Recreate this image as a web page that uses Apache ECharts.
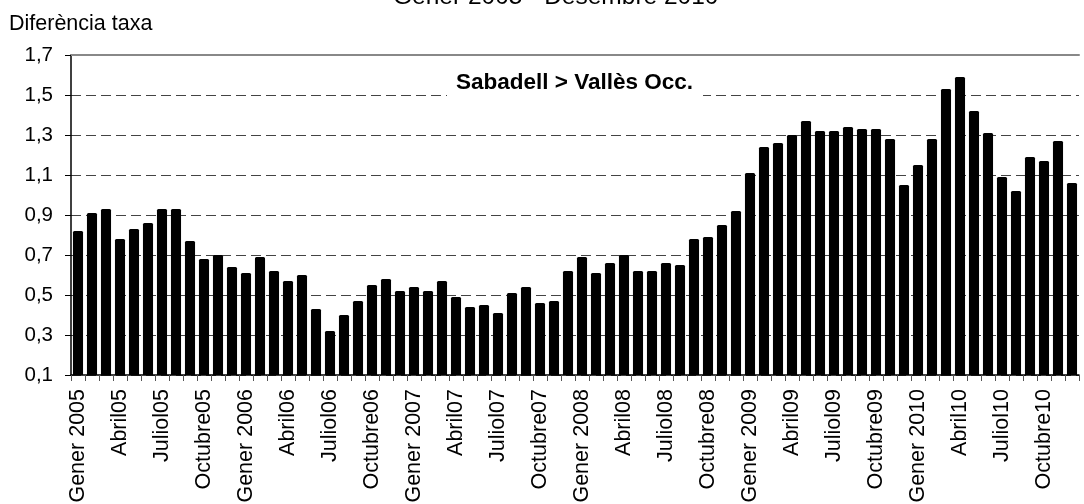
<!DOCTYPE html>
<html>
<head>
<meta charset="utf-8">
<script src="https://cdn.jsdelivr.net/npm/echarts@6/dist/echarts.min.js"></script>
<style>
  html, body { margin: 0; padding: 0; background: #fff; }
  #chart { width: 1084px; height: 504px; }
</style>
</head>
<body>
<div id="chart"></div>
<script>
// ---- data ----
const monthNames = ['Gener', 'Febrer', 'Març', 'Abril', 'Maig', 'Juny', 'Juliol', 'Agost', 'Setembre', 'Octubre', 'Novembre', 'Desembre'];
const years = ['2005', '2006', '2007', '2008', '2009', '2010'];
const values2005 = [0.82, 0.91, 0.93, 0.78, 0.83, 0.86, 0.93, 0.93, 0.77, 0.68, 0.70, 0.64];
const values2006 = [0.61, 0.69, 0.62, 0.57, 0.60, 0.43, 0.32, 0.40, 0.47, 0.55, 0.58, 0.52];
const values2007 = [0.54, 0.52, 0.57, 0.49, 0.44, 0.45, 0.41, 0.51, 0.54, 0.46, 0.47, 0.62];
const values2008 = [0.69, 0.61, 0.66, 0.70, 0.62, 0.62, 0.66, 0.65, 0.78, 0.79, 0.85, 0.92];
const values2009 = [1.11, 1.24, 1.26, 1.30, 1.37, 1.32, 1.32, 1.34, 1.33, 1.33, 1.28, 1.05];
const values2010 = [1.15, 1.28, 1.53, 1.59, 1.42, 1.31, 1.09, 1.02, 1.19, 1.17, 1.27, 1.06];
const yTicks = { min: 0.1, max: 1.7, step: 0.2 };
const titleText = 'Gener 2005 - Desembre 2010';
const yAxisTitle = 'Diferència taxa';
const noteText = 'Sabadell > Vallès Occ.';

// category labels: January with full year, other months with 2-digit year
const categories = [];
years.forEach(function (y) {
  monthNames.forEach(function (m, i) {
    categories.push(i === 0 ? m + ' ' + y : m + y.slice(2));
  });
});
const values = [].concat(values2005, values2006, values2007, values2008, values2009, values2010);

const FONT = "'Liberation Sans', Arial, sans-serif";
const chart = echarts.init(document.getElementById('chart'), null, { renderer: 'canvas' });

chart.setOption({
  animation: false,
  backgroundColor: '#ffffff',
  textStyle: { fontFamily: FONT },
  title: [
    {
      text: titleText, left: 393, top: -15, padding: 0,
      textStyle: { fontFamily: FONT, fontSize: 24.5, fontWeight: 'normal', color: '#000' }
    },
    {
      text: yAxisTitle, left: 9, top: 13, padding: 0,
      textStyle: { fontFamily: FONT, fontSize: 21.5, fontWeight: 'normal', color: '#000' }
    },
    {
      text: noteText, left: 447, top: 68, padding: [3, 10, 5, 9],
      backgroundColor: '#ffffff',
      textStyle: { fontFamily: FONT, fontSize: 22.5, fontWeight: 'bold', color: '#000' }
    }
  ],
  grid: { left: 71, right: 5, top: 55, bottom: 129, containLabel: false, outerBoundsMode: 'none' },
  xAxis: [
    {
      type: 'category',
      data: categories,
      boundaryGap: true,
      axisLine: { show: true, lineStyle: { color: '#000', width: 1.5 } },
      axisTick: { show: true, interval: 0, length: 6, lineStyle: { color: '#555', width: 1 } },
      axisLabel: {
        interval: 2, rotate: 90, margin: 14,
        fontFamily: FONT, fontSize: 21.5, color: '#000'
      },
      splitLine: { show: false }
    },
    {
      type: 'category',
      data: categories,
      position: 'top',
      axisLine: { show: true, lineStyle: { color: '#888', width: 2 } },
      axisTick: { show: false },
      axisLabel: { show: false },
      splitLine: { show: false }
    }
  ],
  yAxis: {
    type: 'value',
    min: yTicks.min,
    max: yTicks.max,
    interval: yTicks.step,
    axisLine: { show: true, lineStyle: { color: '#000', width: 1.5 } },
    axisTick: { show: true, length: 6, lineStyle: { color: '#000', width: 1 } },
    axisLabel: {
      margin: 18,
      fontFamily: FONT, fontSize: 20.5, color: '#000',
      formatter: function (v) { return v.toFixed(1).replace('.', ','); }
    },
    splitLine: { show: true, lineStyle: { color: '#444', width: 1, type: [10, 5] } }
  },
  series: [
    {
      type: 'bar',
      data: values,
      barWidth: '72%',
      itemStyle: { color: '#000', borderRadius: [1.5, 1.5, 0, 0] }
    }
  ]
});
</script>
</body>
</html>
